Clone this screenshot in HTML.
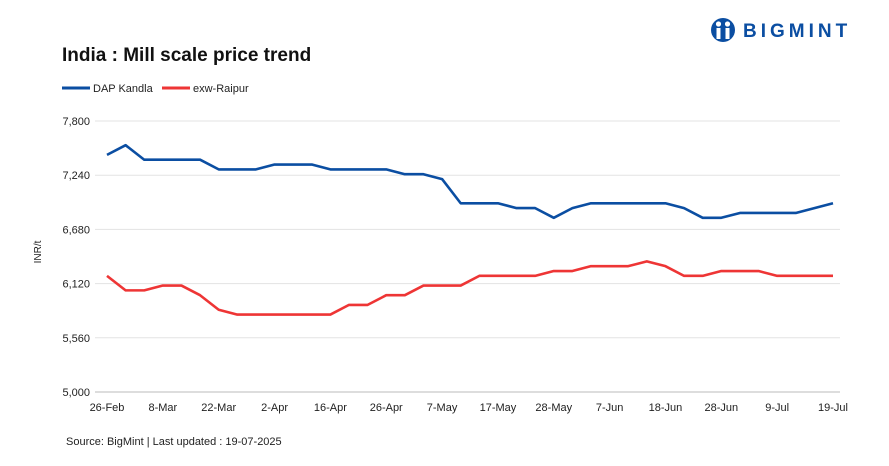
<!DOCTYPE html>
<html><head><meta charset="utf-8"><style>
body{margin:0;background:#fff;font-family:"Liberation Sans",sans-serif;}
#wrap{position:relative;width:889px;height:466px;overflow:hidden;}
</style></head><body>
<div id="wrap">
<svg id="chart" width="889" height="466">
  <g>
    <circle cx="723" cy="30" r="12" fill="#0b4ea2"/>
    <circle cx="718.5" cy="24" r="2.6" fill="#fff"/>
    <circle cx="727.5" cy="24" r="2.6" fill="#fff"/>
    <rect x="716.5" y="28" width="4" height="11" fill="#fff"/>
    <rect x="725.5" y="28" width="4" height="11" fill="#fff"/>
    <text x="743" y="37" font-size="19" font-weight="bold" fill="#0b4ea2" letter-spacing="4">BIGMINT</text>
  </g>
  <text x="62" y="61" font-size="19" font-weight="bold" fill="#111">India : Mill scale price trend</text>
  <g>
    <g>
      <line x1="62" y1="88" x2="90" y2="88" stroke="#0b4ea2" stroke-width="3"/>
      <text x="93" y="92" font-size="11" fill="#222">DAP Kandla</text>
    </g>
    <g>
      <line x1="162" y1="88" x2="190" y2="88" stroke="#ee3535" stroke-width="3"/>
      <text x="193" y="92" font-size="11" fill="#222">exw-Raipur</text>
    </g>
  </g>
  <text transform="translate(41,252) rotate(-90)" text-anchor="middle" font-size="10" fill="#222">INR/t</text>
  <g id="grid"></g>
  <g id="yticks"></g>
  <g id="xticks"></g>
  <g id="series"></g>
  <text x="66" y="445" font-size="11" fill="#222">Source: BigMint | Last updated : 19-07-2025</text>
</svg>
</div>
<script>
const xLabels = ["26-Feb","8-Mar","22-Mar","2-Apr","16-Apr","26-Apr","7-May","17-May","28-May","7-Jun","18-Jun","28-Jun","9-Jul","19-Jul"];
const yTicks = [5000,5560,6120,6680,7240,7800];
const dapKandla = [7450,7550,7400,7400,7400,7400,7300,7300,7300,7350,7350,7350,7300,7300,7300,7300,7250,7250,7200,6950,6950,6950,6900,6900,6800,6900,6950,6950,6950,6950,6950,6900,6800,6800,6850,6850,6850,6850,6900,6950];
const exwRaipur = [6200,6050,6050,6100,6100,6000,5850,5800,5800,5800,5800,5800,5800,5900,5900,6000,6000,6100,6100,6100,6200,6200,6200,6200,6250,6250,6300,6300,6300,6350,6300,6200,6200,6250,6250,6250,6200,6200,6200,6200];

const NS="http://www.w3.org/2000/svg";
const x0=107,x1=833,yTop=121,yBot=392,vMin=5000,vMax=7800;
const n=dapKandla.length;
function xPos(i){return x0+(x1-x0)*i/(n-1);}
function yPos(v){return yBot-(v-vMin)/(vMax-vMin)*(yBot-yTop);}
function mk(tag,attrs,parent){const e=document.createElementNS(NS,tag);for(const k in attrs)e.setAttribute(k,attrs[k]);parent.appendChild(e);return e;}
const grid=document.getElementById('grid'),yt=document.getElementById('yticks'),xt=document.getElementById('xticks'),ser=document.getElementById('series');
yTicks.forEach(v=>{
  const l=mk('line',{x1:x0-12,x2:840,y1:yPos(v),y2:yPos(v),stroke:v===vMin?'#bbb':'#e3e3e3','stroke-width':1},grid);
  
  
  const t=mk('text',{x:90,y:yPos(v)+4,'text-anchor':'end','font-size':11,fill:'#222'},yt);
  t.textContent=v.toLocaleString('en-US');
  
  
});
xLabels.forEach((lab,j)=>{
  const t=mk('text',{x:xPos(j*3),y:411,'text-anchor':'middle','font-size':11,fill:'#222'},xt);
  t.textContent=lab;
  
  
});
function drawLine(data,color,name){
  const p=mk('polyline',{points:data.map((v,i)=>xPos(i)+','+yPos(v)).join(' '),fill:'none',stroke:color,'stroke-width':2.6,'stroke-linejoin':'round'},ser);
  
  
}
drawLine(dapKandla,'#0b4ea2','line-dap-kandla');
drawLine(exwRaipur,'#ee3535','line-exw-raipur');
</script>
</body></html>
